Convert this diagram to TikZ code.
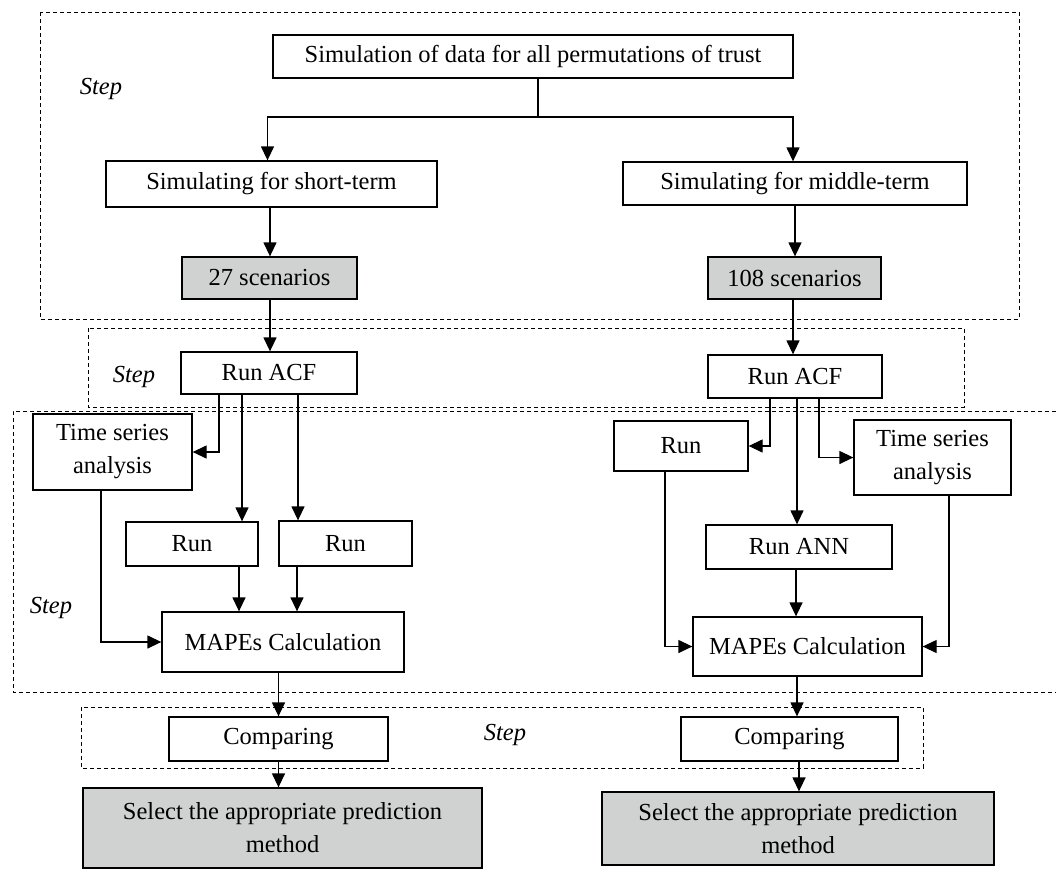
\documentclass[tikz,border=0pt]{standalone}
\usepackage{fontspec}
\setmainfont{Liberation Serif}
\usetikzlibrary{arrows.meta}
\definecolor{boxgray}{RGB}{208,209,209}
\begin{document}
\begin{tikzpicture}[x=1pt,y=-1pt,
  every node/.style={font=\fontsize{24.5}{33}\selectfont},
  box/.style={draw, line width=1.3pt, fill=white, inner sep=0pt, align=center},
  graybox/.style={box, fill=boxgray},
  arr/.style={line width=1.3pt, -{Triangle[length=14pt,width=13pt]}},
  stepframe/.style={line width=0.9pt, dash pattern=on 4pt off 3pt},
  steplabel/.style={font=\fontsize{24.5}{29}\selectfont\itshape}]
\useasboundingbox (0,0) rectangle (1056,870);

% step frames
\draw[stepframe] (40,12) rectangle (1019,319);
\draw[stepframe] (88,328) rectangle (964,407);
\draw[stepframe] (1056,411) -- (13,411) -- (13,692) -- (1056,692);
\draw[stepframe] (81,707) rectangle (923,768);

\node[steplabel] (st1) at (101,89) {Step};
\node[steplabel] (st2) at (134,377) {Step};
\node[steplabel] (st3) at (51,608) {Step};
\node[steplabel] (st4) at (505,735) {Step};

% nodes
\node[box, minimum width=520pt, minimum height=43pt] (top) at (533,56.5) {Simulation of data for all permutations of trust};
\node[box, minimum width=331pt, minimum height=46pt] (short) at (271.5,184) {Simulating for short-term};
\node[box, minimum width=344pt, minimum height=43pt] (mid) at (795,183.5) {Simulating for middle-term};
\node[graybox, minimum width=175pt, minimum height=42pt] (s27) at (269.5,278) {27 scenarios};
\node[graybox, minimum width=173pt, minimum height=42pt] (s108) at (794.5,278) {108 scenarios};
\node[box, minimum width=176pt, minimum height=42pt] (acfL) at (269,373) {Run ACF};
\node[box, minimum width=174pt, minimum height=43pt] (acfR) at (795,376.5) {Run ACF};

\node[box, minimum width=159pt, minimum height=76pt] (tsL) at (112.5,452) {Time series\\analysis};
\node[box, minimum width=132pt, minimum height=44pt] (runL1) at (192,544) {Run};
\node[box, minimum width=133pt, minimum height=45pt] (runL2) at (345.5,543.5) {Run};
\node[box, minimum width=242pt, minimum height=60pt] (mapeL) at (283,642) {MAPEs Calculation};
\node[box, minimum width=219pt, minimum height=44pt] (cmpL) at (278.5,739) {Comparing};
\node[graybox, minimum width=399pt, minimum height=80pt] (selL) at (282.5,828) {Select the appropriate prediction\\method};

\node[box, minimum width=134pt, minimum height=50pt] (runR) at (681,446) {Run};
\node[box, minimum width=186pt, minimum height=44pt] (annR) at (799,547) {Run ANN};
\node[box, minimum width=157pt, minimum height=75pt] (tsR) at (932.5,457.5) {Time series\\analysis};
\node[box, minimum width=229pt, minimum height=59pt] (mapeR) at (807.5,646.5) {MAPEs Calculation};
\node[box, minimum width=217pt, minimum height=44pt] (cmpR) at (789.5,739) {Comparing};
\node[graybox, minimum width=392pt, minimum height=73pt] (selR) at (798,828.5) {Select the appropriate prediction\\method};

% connectors
\coordinate (j) at (538,117);
\draw[line width=1.3pt] (top.south -| j) -- (j);
\draw[arr] (j) -| ([xshift=-4pt]short.north);
\draw[arr] (j) -| ([xshift=-2pt]mid.north);
\draw[arr] ([xshift=-1.5pt]short.south) -- ([xshift=0.5pt]s27.north);
\draw[arr] (mid.south) -- ([xshift=0.5pt]s108.north);
\draw[arr] ([xshift=0.5pt]s27.south) -- ([xshift=1pt]acfL.north);
\draw[arr] ([xshift=-1.5pt]s108.south) -- ([xshift=-2pt]acfR.north);

\draw[arr] ([xshift=-50pt]acfL.south) |- (tsL.east);
\draw[arr] ([xshift=-27pt]acfL.south) -- ([xshift=-27pt]acfL.south |- runL1.north);
\draw[arr] ([xshift=29pt]acfL.south) -- ([xshift=29pt]acfL.south |- runL2.north);
\draw[arr] ([xshift=47pt]runL1.south) -- ([xshift=47pt]runL1.south |- mapeL.north);
\draw[arr] ([xshift=-48.5pt]runL2.south) -- ([xshift=-48.5pt]runL2.south |- mapeL.north);
\draw[arr] ([xshift=-11.5pt]tsL.south) |- (mapeL.west);
\draw[arr] (mapeL.south -| cmpL.north) -- (cmpL.north);
\draw[arr] (cmpL.south) -- (cmpL.south |- selL.north);

\draw[arr] ([xshift=-25pt]acfR.south) |- (runR.east);
\draw[arr] ([xshift=2pt]acfR.south) -- ([xshift=2pt]acfR.south |- annR.north);
\draw[arr] ([xshift=24pt]acfR.south) |- (tsR.west);
\draw[arr] ([xshift=-3pt]annR.south) -- ([xshift=-3pt]annR.south |- mapeR.north);
\draw[arr] ([xshift=-16pt]runR.south) |- (mapeR.west);
\draw[arr] ([xshift=16.5pt]tsR.south) |- (mapeR.east);
\draw[arr] ([xshift=-10.5pt]mapeR.south) -- ([xshift=-10.5pt]mapeR.south |- cmpR.north);
\draw[arr] ([xshift=9.5pt]cmpR.south) -- ([xshift=9.5pt]cmpR.south |- selR.north);
\end{tikzpicture}
\end{document}
